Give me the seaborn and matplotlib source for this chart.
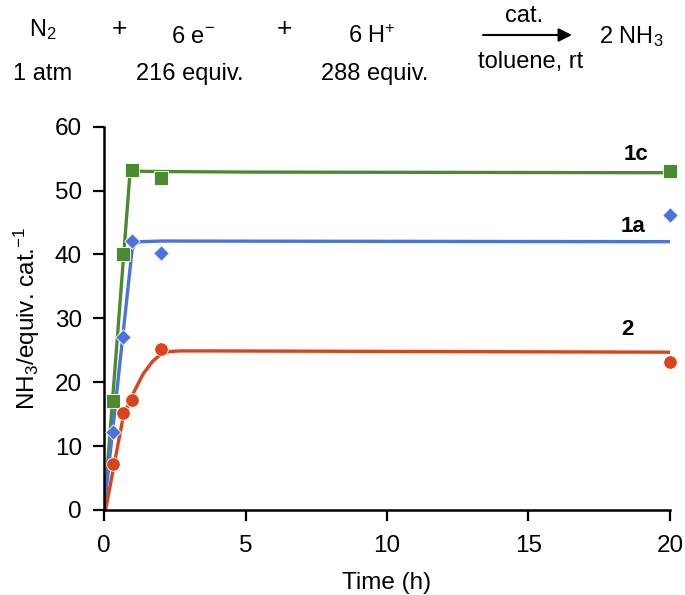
import numpy as np
import pandas as pd
import matplotlib
matplotlib.use("Agg")
import matplotlib.pyplot as plt
import seaborn as sns

# measured points (time in h, NH3 per cat.)
time_pts = [0.33, 0.67, 1.0, 2.0, 20.0]
nh3_1c = [17, 40, 53.2, 52, 53]
nh3_1a = [12.2, 27, 42.1, 40.3, 46.2]
nh3_2 = [7.2, 15.2, 17.2, 25.2, 23.2]

# fitted curves
fit_t_1c = [0.0, 0.92, 1.5, 5.0, 20.0]
fit_1c = [0.0, 53.1, 53.0, 52.9, 52.8]
fit_t_1a = [0.0, 0.99, 1.1, 1.27, 2.0, 20.0]
fit_1a = [0.0, 40.8, 41.6, 42.0, 42.1, 42.0]
fit_t_2 = [0.05, 0.33, 0.67, 1.0, 1.38, 1.7, 1.98, 2.3, 2.7, 3.5, 20.0]
fit_2 = [0.0, 6.5, 14.5, 18.0, 21.3, 23.2, 24.3, 24.8, 24.9, 24.9, 24.7]

series = ['1c', '1a', '2']
colors = {'1c': '#4c8a30', '1a': '#4a73dc', '2': '#d9441d'}
markers = {'1c': 's', '1a': 'D', '2': 'o'}
sizes = {'1c': 100, '1a': 62, '2': 95}

pts = pd.concat([
    pd.DataFrame({'t': time_pts, 'y': nh3_1c, 'cat': '1c'}),
    pd.DataFrame({'t': time_pts, 'y': nh3_1a, 'cat': '1a'}),
    pd.DataFrame({'t': time_pts, 'y': nh3_2, 'cat': '2'}),
])
fits = pd.concat([
    pd.DataFrame({'t': fit_t_1c, 'y': fit_1c, 'cat': '1c'}),
    pd.DataFrame({'t': fit_t_1a, 'y': fit_1a, 'cat': '1a'}),
    pd.DataFrame({'t': fit_t_2, 'y': fit_2, 'cat': '2'}),
])

sns.set_theme(style="ticks")
plt.rcParams['font.family'] = ['Liberation Sans', 'DejaVu Sans']
plt.rcParams['mathtext.fontset'] = 'custom'
plt.rcParams['mathtext.rm'] = 'Liberation Sans'
plt.rcParams['mathtext.it'] = 'Liberation Sans'
plt.rcParams['text.color'] = 'black'
plt.rcParams['axes.labelcolor'] = 'black'

fig = plt.figure(figsize=(6.85, 5.95), dpi=100)
ax = fig.add_axes([0.152, 0.143, 0.826, 0.644])

for c in series:
    d = fits[fits['cat'] == c]
    sns.lineplot(data=d, x='t', y='y', color=colors[c], lw=2.4, ax=ax,
                 sort=False, estimator=None, legend=False, zorder=2)
for c in series:
    d = pts[pts['cat'] == c]
    sns.scatterplot(data=d, x='t', y='y', color=colors[c], marker=markers[c],
                    s=sizes[c], edgecolor='white', linewidth=0.6, ax=ax,
                    legend=False, zorder=3, clip_on=False)

ax.text(18.8, 55.6, '1c', fontsize=16, fontweight='bold', ha='center', va='center')
ax.text(18.7, 44.4, '1a', fontsize=16, fontweight='bold', ha='center', va='center')
ax.text(18.5, 28.3, '2', fontsize=16, fontweight='bold', ha='center', va='center')

fs = 17.5
ax.set_xlim(0, 20)
ax.set_ylim(0, 60)
ax.set_xticks([0, 5, 10, 15, 20])
ax.set_yticks(range(0, 61, 10))
ax.set_xlabel('Time (h)', fontsize=fs, labelpad=11)
ax.set_ylabel('NH$_3$/equiv. cat.$^{-1}$', fontsize=fs, labelpad=9)
ax.tick_params(labelsize=fs, length=8, width=1.6, direction='out', colors='black')
ax.tick_params(axis='x', pad=10)
ax.tick_params(axis='y', pad=8)
for s in ['left', 'bottom']:
    ax.spines[s].set_linewidth(1.8)
    ax.spines[s].set_color('black')
sns.despine(ax=ax)

# reaction scheme on top
def ftext(x, y, s, size=17):
    fig.text(x / 685, 1 - y / 595, s, fontsize=size, ha='center', va='center')

ftext(43, 30, 'N$_2$')
ftext(119, 29, '+', 19)
ftext(193, 37, '6 e$^{-}$')
ftext(284, 29, '+', 19)
ftext(372, 37, '6 H$^{+}$')
ftext(631, 37, '2 NH$_3$')
ftext(43, 74, '1 atm')
ftext(190, 74, '216 equiv.')
ftext(375, 74, '288 equiv.')
ftext(524, 16, 'cat.')
ftext(531, 62, 'toluene, rt')
fig.add_artist(matplotlib.patches.FancyArrowPatch(
    (483 / 685, 1 - 35 / 595), (572 / 685, 1 - 35 / 595),
    transform=fig.transFigure, arrowstyle='-|>', mutation_scale=20,
    color='black', lw=1.5, shrinkA=0, shrinkB=0))

fig.savefig('out.png', dpi=100, facecolor='white')
